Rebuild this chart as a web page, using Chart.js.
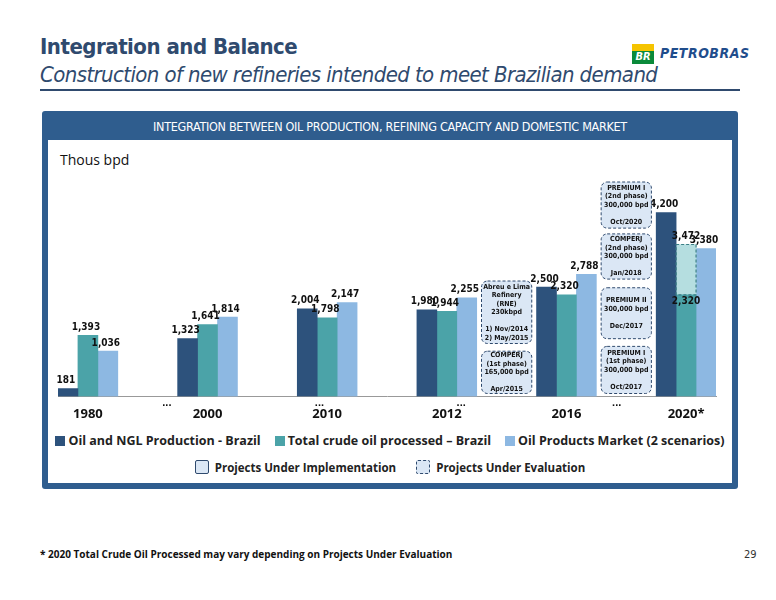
<!DOCTYPE html>
<html><head><meta charset="utf-8">
<script src="https://cdn.jsdelivr.net/npm/chart.js@4"></script>
<style>
body{margin:0;width:776px;height:600px;background:#fff;font-family:'DejaVu Sans Condensed','Liberation Sans',sans-serif;position:relative;overflow:hidden}
.abs{position:absolute}
#t1{left:40px;top:34px;font-size:22px;font-weight:bold;color:#2f4a6e;letter-spacing:-0.5px}
#t2{left:40px;top:62px;font-size:22px;font-style:italic;color:#2f4a6e;letter-spacing:-0.6px}
#rule{left:40px;top:89px;width:700px;height:2px;background:#2f4a6e}
#frame{left:42px;top:111px;width:696px;height:378px;background:#2f5d8e;border-radius:3px}
#inner{left:48px;top:140px;width:684px;height:343px;background:#fff}
#hdr{left:42px;top:119px;width:696px;text-align:center;color:#fff;font-size:12.5px;letter-spacing:-0.3px}
#unit{left:60px;top:150px;font-size:14px;font-family:'Open Sans',sans-serif;color:#111}
#leg{left:48px;top:432px;width:684px;text-align:center;font-family:'Open Sans',sans-serif;font-weight:bold;font-size:12.5px;color:#222}
#leg span{display:inline-block;margin:0 7px}
#leg i{display:inline-block;width:10px;height:10px;margin-right:3px;vertical-align:-1px}
#leg2{left:48px;top:460px;width:684px;text-align:center;font-family:'Open Sans',sans-serif;font-weight:bold;font-size:11.5px;color:#222}
#leg2 span{display:inline-block;margin:0 10px}
#leg2 i{display:inline-block;width:12px;height:12px;background:#dbe7f5;margin-right:6px;vertical-align:-2px;border-radius:2px}
#foot{left:40px;top:547px;font-family:'Open Sans',sans-serif;font-weight:bold;font-size:10px;color:#111}
#pg{left:744px;top:548px;font-size:11px;color:#333}
#logo{left:632px;top:44px;width:22px;height:20px;background:linear-gradient(#f5c400 35%,#0a8a3a 35%);color:#fff;font-weight:bold;font-style:italic;font-size:11px;text-align:center;line-height:26px}
#pb{left:660px;top:45px;font-weight:bold;font-style:italic;color:#1f4d8c;font-size:14px;letter-spacing:0.5px}
#cv{left:42px;top:140px}
</style></head><body>
<div id="t1" class="abs">Integration and Balance</div>
<div id="t2" class="abs">Construction of new refineries intended to meet Brazilian demand</div>
<div id="rule" class="abs"></div>
<div id="logo" class="abs">BR</div><div id="pb" class="abs">PETROBRAS</div>
<div id="frame" class="abs"></div>
<div id="inner" class="abs"></div>
<div id="hdr" class="abs">INTEGRATION BETWEEN OIL PRODUCTION, REFINING CAPACITY AND DOMESTIC MARKET</div>
<div id="unit" class="abs">Thous bpd</div>
<div class="abs" id="cv"><canvas id="c" width="698" height="292" style="width:698px;height:292px"></canvas></div>
<div id="leg" class="abs"><span><i style="background:#2d527c"></i>Oil and NGL Production - Brazil</span><span><i style="background:#4ba3a8"></i>Total crude oil processed – Brazil</span><span><i style="background:#8db8e2"></i>Oil Products Market (2 scenarios)</span></div>
<div id="leg2" class="abs"><span><i style="border:1px solid #2f4a6e"></i>Projects Under Implementation</span><span><i style="border:1px dashed #2f4a6e"></i>Projects Under Evaluation</span></div>
<div id="foot" class="abs">* 2020 Total Crude Oil Processed may vary depending on Projects Under Evaluation</div>
<div id="pg" class="abs">29</div>
<script>
const categories = ['1980', '', '2000', '', '2010', '', '2012', '', '2016', '', '2020*'];
const production = [181, null, 1323, null, 2004, null, 1980, null, 2500, null, 4200];
const processed = [1393, null, 1641, null, 1798, null, 1944, null, 2320, null, 2320];
const processedEval = [null, null, null, null, null, null, null, null, null, null, 1152];
const market = [1036, null, 1814, null, 2147, null, 2255, null, 2788, null, 3380];
const ellipsisAt = [1.82, 4.37, 6.74, 9.34];
// project boxes: [slot, top, bottom, lines]
const projects = [
  [7, 2637, 1209, ['Abreu e Lima', 'Refinery', '(RNE)', '230kbpd', '', '1) Nov/2014', '2) May/2015']],
  [7, 1033, 66, ['COMPERJ', '(1st phase)', '165,000 bpd', '', 'Apr/2015']],
  [9, 4900, 3846, ['PREMIUM I', '(2nd phase)', '300,000 bpd', '', 'Oct/2020']],
  [9, 3714, 2681, ['COMPERJ', '(2nd phase)', '300,000 bpd', '', 'Jan/2018']],
  [9, 2483, 1319, ['PREMIUM II', '300,000 bpd', '', 'Dec/2017']],
  [9, 1143, 66, ['PREMIUM I', '(1st phase)', '300,000 bpd', '', 'Oct/2017']]
];
const fmt = v => v.toLocaleString('en-US');

const overlay = {
  id: 'overlay',
  afterDatasetsDraw(chart) {
    const { ctx, scales: { x, y } } = chart;
    ctx.save();
    // dashed outline on evaluated portion
    const eb = chart.getDatasetMeta(2).data[10];
    ctx.setLineDash([3, 2]); ctx.strokeStyle = '#3b7f86'; ctx.lineWidth = 1.2;
    ctx.strokeRect(eb.x - eb.width / 2, eb.y, eb.width, eb.base - eb.y);
    // value labels
    ctx.setLineDash([]);
    ctx.fillStyle = '#111'; ctx.font = 'bold 10px "DejaVu Sans Condensed", sans-serif';
    ctx.textAlign = 'center'; ctx.textBaseline = 'bottom';
    [0, 1, 3].forEach(d => {
      chart.getDatasetMeta(d).data.forEach((b, i) => {
        const v = chart.data.datasets[d].data[i];
        if (v == null) return;
        if (d === 1 && i === 10) { ctx.fillText(fmt(v), b.x, b.y + 12); return; }
        ctx.fillText(fmt(v), b.x - 2, b.y - 3);
      });
    });
    ctx.fillText(fmt(processed[10] + processedEval[10]), eb.x, eb.y - 3);
    // ellipses
    ctx.font = 'bold 11px sans-serif'; ctx.textBaseline = 'top';
    ellipsisAt.forEach(s => ctx.fillText('...', x.getPixelForDecimal(s / 11), y.bottom + 1));
    // project boxes
    const w = x.width / 11;
    projects.forEach(([slot, top, bot, lines]) => {
      const cx = x.getPixelForValue(slot), y1 = y.getPixelForValue(top), y2 = y.getPixelForValue(bot);
      ctx.beginPath(); ctx.setLineDash([3, 2]); ctx.strokeStyle = '#2f4a6e'; ctx.lineWidth = 1;
      ctx.fillStyle = '#dbe7f5';
      ctx.roundRect(cx - w * 0.42, y1, w * 0.84, y2 - y1, 6); ctx.fill(); ctx.stroke();
      ctx.setLineDash([]); ctx.fillStyle = '#111';
      ctx.font = 'bold 7px "DejaVu Sans Condensed", sans-serif'; ctx.textBaseline = 'middle';
      const lh = 8.5, h0 = (y1 + y2) / 2 - (lines.length - 1) * lh / 2;
      lines.forEach((t, k) => ctx.fillText(t, cx, h0 + k * lh));
    });
    ctx.restore();
  }
};

new Chart(document.getElementById('c'), {
  type: 'bar',
  data: {
    labels: categories,
    datasets: [
      { label: 'Oil and NGL Production - Brazil', data: production, backgroundColor: '#2d527c', stack: 'a' },
      { label: 'Total crude oil processed – Brazil', data: processed, backgroundColor: '#4ba3a8', stack: 'b' },
      { label: 'Evaluation', data: processedEval, backgroundColor: '#b5dee0', stack: 'b' },
      { label: 'Oil Products Market (2 scenarios)', data: market, backgroundColor: '#8db8e2', stack: 'c' }
    ]
  },
  options: {
    responsive: false, animation: false,
    datasets: { bar: { categoryPercentage: 1, barPercentage: 1 } },
    layout: { padding: { left: 16, right: 24, top: 42 } },
    plugins: { legend: { display: false }, tooltip: { enabled: false } },
    scales: {
      x: {
        stacked: true,
        grid: { display: false, drawTicks: false },
        border: { color: '#999' },
        ticks: { color: '#111', padding: 10, autoSkip: false, maxRotation: 0,
          font: { family: 'Open Sans', weight: 'bold', size: 13 } }
      },
      y: { stacked: true, min: 0, max: 4900, display: false }
    }
  },
  plugins: [overlay]
});
</script>
</body></html>
